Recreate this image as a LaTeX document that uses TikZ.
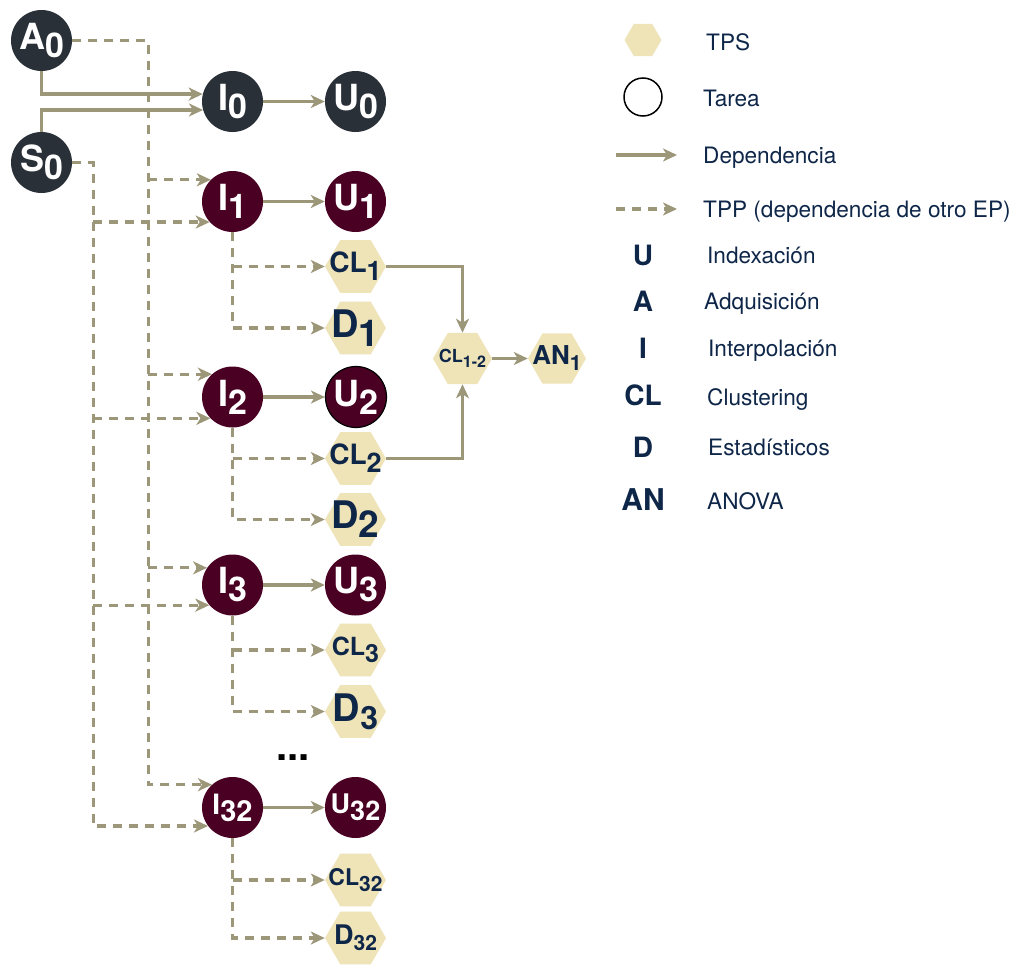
\documentclass[tikz,border=0pt]{standalone}
\usepackage{fontspec}
\setmainfont{TeX Gyre Heros}
\usetikzlibrary{arrows.meta,shapes.geometric,backgrounds}
\definecolor{slate}{RGB}{42,48,56}
\definecolor{wine}{RGB}{74,0,34}
\definecolor{sand}{RGB}{239,227,184}
\definecolor{olive}{RGB}{157,151,121}
\definecolor{navy}{RGB}{14,38,72}
% letter with a lowered index: #1 letter, #2 index, #3 letter size, #4 index size, #5 drop
\newcommand\mk[5]{{\fontsize{#3}{#3}\selectfont\bfseries #1}\raisebox{-#5pt}{\fontsize{#4}{#4}\selectfont\bfseries #2}}
\begin{document}
\begin{tikzpicture}[x=1pt,y=-1pt,
  task/.style={circle,minimum size=61pt,inner sep=0pt,text=white},
  src/.style={task,fill=slate},
  job/.style={task,fill=wine},
  hexa/.style={regular polygon,regular polygon sides=6,minimum size=61pt,inner sep=0pt,fill=sand},
  htxt/.style={inner sep=0pt,text=navy},
  dep/.style={draw=olive,line width=3.2pt,-{Stealth[length=14pt,width=13pt,inset=4pt]}},
  tpp/.style={dep,dash pattern=on 9pt off 7pt},
  lgtxt/.style={anchor=base west,inner sep=0pt,text=navy,font=\fontsize{22.6}{26}\selectfont},
  lgkey/.style={inner sep=0pt,text=navy,font=\fontsize{28}{28}\selectfont\bfseries},
]
\useasboundingbox (0,0) rectangle (1017,964);

% sources
\node[src] (a0) at (41.5,40.5) {\mk{A}{0}{36}{34}{8}};
\node[src] (s0) at (41.5,162.5) {\mk{S}{0}{36}{34}{8}};
\node[src] (i0) at (232.5,101.5) {\mk{I}{0}{36}{34}{8}};
\node[src] (u0) at (355.5,101.5) {\mk{U}{0}{36}{34}{8}};

% block 1
\node[job] (i1) at (232.5,201.5) {\mk{I}{1}{36}{34}{8}};
\node[job] (u1) at (355.5,201.5) {\mk{U}{1}{36}{34}{8}};
\node[hexa] (cl1) at (355.5,266.5) {};
\node[htxt] (cl1t) at (cl1) {\mk{CL}{1}{28}{27}{8}};
\node[hexa] (d1) at (355.5,328) {};
\node[htxt] (d1t) at (d1) {\mk{D}{1}{38}{37}{9}};

% block 2
\node[job] (i2) at (232.5,397) {\mk{I}{2}{36}{34}{8}};
\node[job,draw=black,line width=1.2pt] (u2) at (356,397) {\mk{U}{2}{36}{34}{8}};
\node[hexa] (cl2) at (355.5,458.5) {};
\node[htxt] (cl2t) at (cl2) {\mk{CL}{2}{28}{27}{8}};
\node[hexa] (d2) at (355.5,519.5) {};
\node[htxt] (d2t) at (d2) {\mk{D}{2}{38}{37}{9}};

% merged clustering and ANOVA
\node[hexa,minimum size=59pt] (cl12) at (462.5,358.5) {};
\node[htxt] (cl12t) at (cl12) {\mk{CL}{1-2}{18}{16}{5}};
\node[hexa,minimum size=58pt] (an1) at (557,358.5) {};
\node[htxt] (an1t) at (an1) {\mk{AN}{1}{26}{21}{6}};

% block 3
\node[job] (i3) at (232.5,585) {\mk{I}{3}{36}{34}{8}};
\node[job] (u3) at (355.5,585) {\mk{U}{3}{36}{34}{8}};
\node[hexa] (cl3) at (355.5,650) {};
\node[htxt] (cl3t) at (cl3) {\mk{CL}{3}{25}{25}{7}};
\node[hexa] (d3) at (355.5,711.5) {};
\node[htxt] (d3t) at (d3) {\mk{D}{3}{38}{32}{8}};

\node[inner sep=0pt,font=\fontsize{40}{40}\selectfont\bfseries] (dots) at (293,758) {...};

% block 32
\node[job] (i32) at (232.5,807.5) {\mk{I}{32}{28}{29}{7}};
\node[job] (u32) at (355.5,807.5) {\mk{U}{32}{27}{27}{7}};
\node[hexa] (cl32) at (355.5,880) {};
\node[htxt] (cl32t) at (cl32) {\mk{CL}{32}{23}{21}{6}};
\node[hexa] (d32) at (355.5,938) {};
\node[htxt] (d32t) at (d32) {\mk{D}{32}{27}{21}{6}};

% connectors
\begin{scope}[on background layer]
  \draw[dep] (a0.south) |- (i0.166);
  \draw[dep] (s0.north) |- (i0.196);
  \draw[dep] (i0) -- (u0);
  \draw[dep] (i1) -- (u1);
  \draw[dep] (i2) -- (u2);
  \draw[dep] (i3) -- (u3);
  \draw[dep] (i32) -- (u32);
  \draw[dep] (cl1.east) -| (cl12.north);
  \draw[dep] (cl2.east) -| (cl12.south);
  \draw[dep] (cl12.east) -- (an1.west);

  % acquisition trunk
  \path (a0.east) ++(76,0) coordinate (tA);
  \draw[tpp] (a0.east) -- (tA) |- (i32.132);
  \draw[tpp] (tA |- i1.135) -- (i1.135);
  \draw[tpp] (tA |- i2.132) -- (i2.132);
  \draw[tpp] (tA |- i3.146) -- (i3.146);
  % second source trunk
  \path (s0.east) ++(21,0) coordinate (tS);
  \draw[tpp] (s0.east) -- (tS) |- (i32.217);
  \draw[tpp] (tS |- i1.222) -- (i1.222);
  \draw[tpp] (tS |- i2.224) -- (i2.224);
  \draw[tpp] (tS |- i3.221) -- (i3.221);

  % interpolation to clustering / statistics
  \draw[tpp] (i1.south) |- (d1.west);
  \draw[tpp] (i1.south |- cl1) -- (cl1.west);
  \draw[tpp] (i2.south) |- (d2.west);
  \draw[tpp] (i2.south |- cl2) -- (cl2.west);
  \draw[tpp] (i3.south) |- (d3.west);
  \draw[tpp] (i3.south |- cl3) -- (cl3.west);
  \draw[tpp] (i32.south) |- (d32.west);
  \draw[tpp] (i32.south |- cl32) -- (cl32.west);
\end{scope}

% legend
\node[hexa,minimum size=37pt] (lgh) at (643,40) {};
\node[lgtxt] (lgh t) at (706,50) {TPS};
\node[circle,draw=black,fill=white,line width=1.5pt,minimum size=38pt,inner sep=0pt] (lgc) at (643,97) {};
\node[lgtxt] (lgc t) at (703,106) {Tarea};
\coordinate (ld1) at (616,155);
\coordinate (ld2) at (677,155);
\draw[dep] (ld1) -- (ld2);
\node[lgtxt] (ld t) at (703,163) {Dependencia};
\coordinate (lp1) at (616,209);
\coordinate (lp2) at (677,209);
\draw[tpp] (lp1) -- (lp2);
\node[lgtxt] (lp t) at (703,217) {TPP (dependencia de otro EP)};

\node[lgkey] (kU) at (643,255) {U};
\node[lgtxt] (kU t) at (707,263) {Indexación};
\node[lgkey] (kA) at (643,301) {A};
\node[lgtxt] (kA t) at (704,309) {Adquisición};
\node[lgkey] (kI) at (643,348) {I};
\node[lgtxt] (kI t) at (708,356) {Interpolación};
\node[lgkey] (kCL) at (643,395) {CL};
\node[lgtxt] (kCL t) at (707,405) {Clustering};
\node[lgkey] (kD) at (643,447) {D};
\node[lgtxt] (kD t) at (708,455) {Estadísticos};
\node[lgkey,font=\fontsize{30}{30}\selectfont\bfseries] (kAN) at (643,500) {AN};
\node[lgtxt] (kAN t) at (707,509) {ANOVA};
\end{tikzpicture}
\end{document}
